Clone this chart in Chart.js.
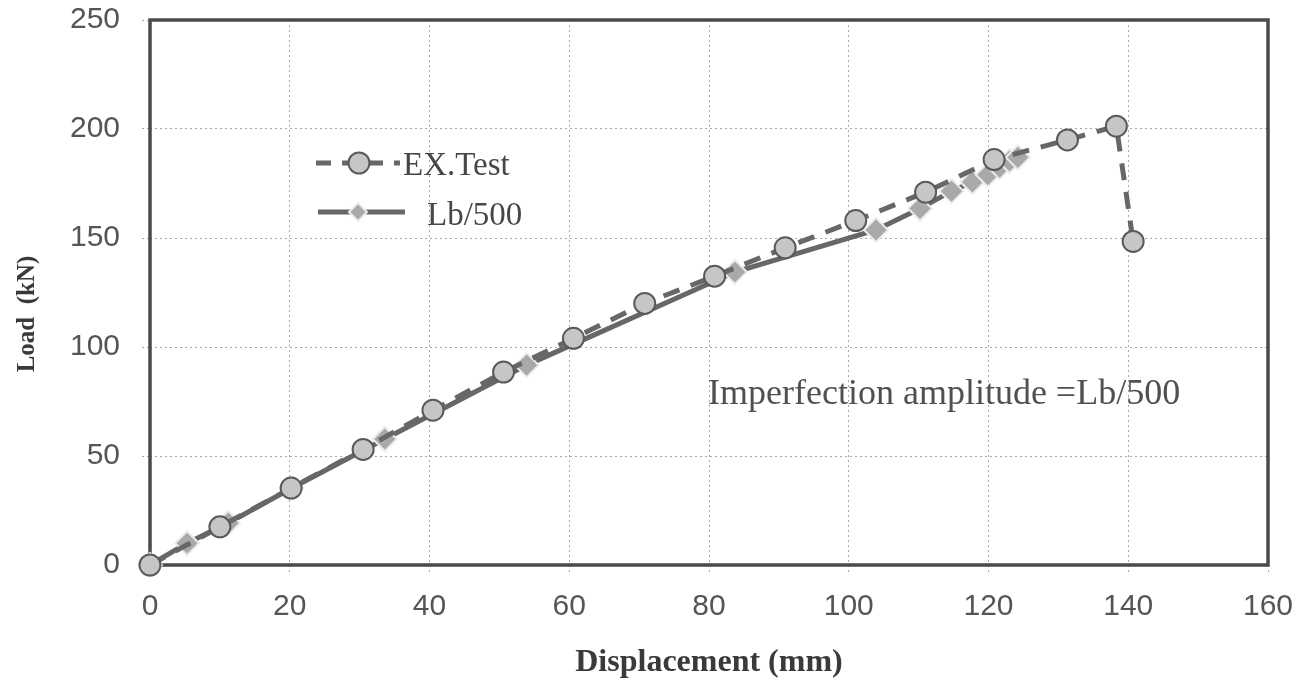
<!DOCTYPE html>
<html>
<head>
<meta charset="utf-8">
<script src="https://cdn.jsdelivr.net/npm/chart.js@4.4.1/dist/chart.umd.min.js"></script>
<style>
html,body{margin:0;padding:0;background:#fff;}
#wrap{width:1309px;height:687px;}
</style>
</head>
<body>
<div id="wrap"><canvas id="c" width="1309" height="687"></canvas></div>
<script>
// Data
const exTestX = [0, 10, 20.2, 30.5, 40.5, 50.6, 60.6, 70.8, 80.8, 90.9, 101, 111, 120.8, 131.3, 138.3, 140.7];
const exTestY = [0, 17.5, 35.3, 53, 71, 88.5, 104, 120, 132.5, 145.5, 158, 171, 186, 195, 201.3, 148.4];
const lb500X = [0, 5.3, 11.2, 20.3, 33.6, 53.9, 83.7, 103.9, 110.2, 114.7, 117.7, 119.9, 121.6, 123, 124.2];
const lb500Y = [0, 10, 19.3, 35.3, 57.8, 91.7, 134.4, 153.7, 163.5, 171.5, 175.7, 179, 182.5, 185.3, 187];
const xTicks = [0, 20, 40, 60, 80, 100, 120, 140, 160];
const yTicks = [0, 50, 100, 150, 200, 250];
const seriesNames = ['EX.Test', 'Lb/500'];
const xTitle = 'Displacement (mm)';
const yTitle = 'Load  (kN)';
const noteText = 'Imperfection amplitude =Lb/500';

const LINE = '#676767';
const toPts = (xs, ys) => xs.map((x, i) => ({x: x, y: ys[i]}));

const decor = {
  id: 'decor',
  beforeDatasetsDraw(chart) {
    const {ctx, chartArea: a} = chart;
    ctx.save();
    ctx.strokeStyle = '#4a4a4a';
    ctx.lineWidth = 3.5;
    ctx.strokeRect(a.left, a.top, a.right - a.left, a.bottom - a.top);
    ctx.restore();
  },
  afterDatasetsDraw(chart) {
    const {ctx} = chart;
    ctx.save();
    ctx.fillStyle = '#3a3a3a';
    ctx.font = 'bold 25px "Liberation Serif", "Times New Roman", serif';
    ctx.textAlign = 'center';
    ctx.textBaseline = 'middle';
    ctx.translate(28, 314);
    ctx.rotate(-Math.PI / 2);
    ctx.fillText(yTitle, 0, 0);
    ctx.restore();

    ctx.save();
    ctx.strokeStyle = LINE;
    ctx.lineWidth = 5;
    ctx.setLineDash([15, 11]);
    ctx.beginPath(); ctx.moveTo(316, 163); ctx.lineTo(400, 163); ctx.stroke();
    ctx.setLineDash([]);
    ctx.beginPath(); ctx.moveTo(318, 212); ctx.lineTo(405, 212); ctx.stroke();
    ctx.fillStyle = '#c6c6c6';
    ctx.strokeStyle = '#5a5a5a';
    ctx.lineWidth = 2;
    ctx.beginPath(); ctx.arc(359, 163, 10.5, 0, Math.PI * 2); ctx.fill(); ctx.stroke();
    ctx.fillStyle = '#a9a9a9';
    ctx.strokeStyle = '#ececec';
    ctx.beginPath();
    ctx.moveTo(358, 203); ctx.lineTo(367, 212); ctx.lineTo(358, 221); ctx.lineTo(349, 212); ctx.closePath();
    ctx.fill(); ctx.stroke();
    ctx.fillStyle = '#474747';
    ctx.font = '33px "Liberation Serif", "Times New Roman", serif';
    ctx.textAlign = 'left';
    ctx.textBaseline = 'middle';
    ctx.fillText(seriesNames[0], 403, 166);
    ctx.fillText(seriesNames[1], 427, 216);
    ctx.fillStyle = '#505050';
    ctx.font = '36px "Liberation Serif", "Times New Roman", serif';
    ctx.textBaseline = 'alphabetic';
    ctx.fillText(noteText, 708, 404);
    ctx.restore();
  }
};

const gridOpts = {color: '#a8a8a8', lineWidth: 1, tickBorderDash: [2, 3], drawTicks: true, tickLength: 8, tickColor: '#a8a8a8'};

new Chart(document.getElementById('c'), {
  type: 'scatter',
  data: {
    datasets: [
      {
        label: seriesNames[1],
        data: toPts(lb500X, lb500Y),
        showLine: true,
        borderColor: LINE,
        borderWidth: 5,
        pointStyle: 'rectRot',
        pointRadius: 12,
        pointBackgroundColor: '#a9a9a9',
        pointBorderColor: '#ececec',
        pointBorderWidth: 2,
        clip: false,
        order: 2
      },
      {
        label: seriesNames[0],
        data: toPts(exTestX, exTestY),
        showLine: true,
        borderColor: LINE,
        borderWidth: 5,
        borderDash: [17, 12],
        pointStyle: 'circle',
        pointRadius: 10.5,
        pointBackgroundColor: '#c6c6c6',
        pointBorderColor: '#5a5a5a',
        pointBorderWidth: 2,
        clip: false,
        order: 1
      }
    ]
  },
  plugins: [decor],
  options: {
    responsive: false,
    animation: false,
    devicePixelRatio: 1,
    layout: {padding: {left: 0, right: 41, top: 20, bottom: 0}},
    plugins: {legend: {display: false}, tooltip: {enabled: false}},
    scales: {
      x: {
        type: 'linear',
        min: 0, max: 160,
        afterBuildTicks: s => { s.ticks = xTicks.map(v => ({value: v})); },
        afterFit: s => { s.height = 122; s.paddingLeft = 0; s.paddingRight = 0; },
        border: {display: false, dash: [2, 3]},
        grid: gridOpts,
        ticks: {color: '#555', padding: 16, font: {family: '"Liberation Sans", Arial, sans-serif', size: 30}, maxRotation: 0},
        title: {display: true, text: xTitle, color: '#3a3a3a', padding: {top: 0, bottom: 5}, font: {family: '"Liberation Serif", "Times New Roman", serif', size: 32, weight: 'bold'}}
      },
      y: {
        type: 'linear',
        min: 0, max: 250,
        afterBuildTicks: s => { s.ticks = yTicks.map(v => ({value: v})); },
        afterFit: s => { s.width = 150; s.paddingTop = 0; s.paddingBottom = 0; },
        border: {display: false, dash: [2, 3]},
        grid: gridOpts,
        ticks: {color: '#555', padding: 22, font: {family: '"Liberation Sans", Arial, sans-serif', size: 30}}
      }
    }
  }
});
</script>
</body>
</html>
